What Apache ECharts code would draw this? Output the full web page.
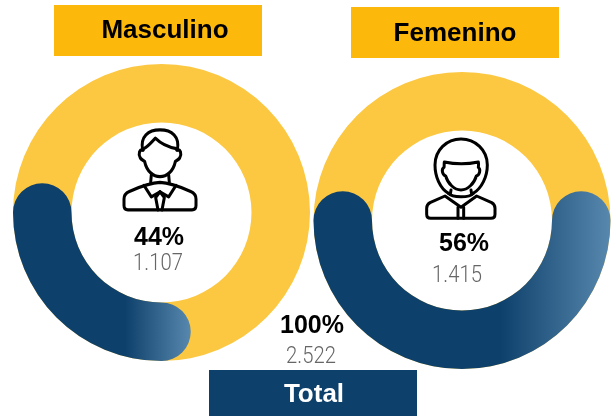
<!DOCTYPE html>
<html>
<head>
<meta charset="utf-8">
<style>html,body{margin:0;padding:0;background:#fff}#c{width:611px;height:416px}</style>
<script src="https://cdn.jsdelivr.net/npm/echarts@6/dist/echarts.min.js"></script>
</head>
<body>
<div id="c"></div>
<script>
const categories = ['Masculino', 'Femenino'];
const shareLabels = ['44%', '56%'];
const countLabels = ['1.107', '1.415'];
const arcValues = [25, 50];          // sweep of the blue arc as drawn, out of 100
const totalName = 'Total';
const totalShare = '100%';
const totalCount = '2.522';

const YELLOW = '#FCC842', BANNER = '#FDB90B', BLUE = '#0D406B', LIGHT = '#5888AE';

const chart = echarts.init(document.getElementById('c'), null, {renderer: 'canvas'});

function donut(name, value, cx, cy, gx0, gx1) {
  return {
    type: 'gauge', name, center: [cx, cy], radius: 148.5,
    startAngle: 180, endAngle: 540, clockwise: false, min: 0, max: 100,
    axisLine: {roundCap: false, lineStyle: {width: 58.5, color: [[1, YELLOW]]}},
    progress: {show: true, width: 58.5, roundCap: true, overlap: true,
      itemStyle: {color: {type: 'linear', global: true, x: gx0, y: 0, x2: gx1, y2: 0,
        colorStops: [{offset: 0, color: BLUE}, {offset: 1, color: LIGHT}]}}},
    pointer: {show: false}, anchor: {show: false}, axisTick: {show: false},
    splitLine: {show: false}, axisLabel: {show: false}, title: {show: false}, detail: {show: false},
    data: [{value, name}], silent: true, animation: false
  };
}

function banner(x, y, w, h, fill, label, color, tx, ty) {
  return [
    {type: 'rect', shape: {x, y, width: w, height: h}, style: {fill}, silent: true},
    {type: 'text', x: tx, y: ty, style: {text: label, fill: color, font: 'bold 26px "Liberation Sans", Arial, sans-serif', align: 'center', verticalAlign: 'middle'}, silent: true}
  ];
}
function big(label, x, y) {
  return {type: 'text', x, y, style: {text: label, fill: '#000', font: 'bold 25px "Liberation Sans", Arial, sans-serif', align: 'center', verticalAlign: 'middle'}, silent: true};
}
function small(label, x, y) {
  return {type: 'text', x, y, scaleX: 0.88, style: {text: label, fill: '#666666', font: '300 23px Roboto, sans-serif', align: 'center', verticalAlign: 'middle'}, silent: true};
}
let shapeCount = 0;
function icon(x, y, sy, paths) {
  return {type: 'group', x, y, scaleX: 1/3, scaleY: sy, silent: true,
    children: paths.map(d => {
      const type = 'iconPath' + (shapeCount++);
      echarts.graphic.registerShape(type, echarts.graphic.extendPath(d));
      return {type, style: {fill: 'none', stroke: '#000', lineWidth: 9, lineJoin: 'round', lineCap: 'round'}};
    })};
}

const malePaths = [
  'M98 96 C90 58 115 40 150 40 C185 40 210 58 202 96',
  'M101 92 C115 86 126 72 136 63 C150 76 175 88 199 92',
  'M100 96 C88 92 84 108 91 118 C95 124 101 124 104 128 C110 155 130 170 150 170 C170 170 190 155 196 128 C199 124 205 124 209 118 C216 108 212 92 200 96',
  'M124 165 L122 186 M176 165 L178 186',
  'M54 262 C46 262 42 258 42 250 L42 232 C42 222 48 215 58 211 C90 198 120 187 150 186 C180 187 210 198 242 211 C252 215 258 222 258 232 L258 250 C258 258 254 262 246 262 Z',
  'M102 194 L124 226 L150 212 L176 226 L198 194',
  'M150 212 L137 228 L144 262 M150 212 L163 228 L156 262'
];
const femalePaths = [
  'M100 190 C75 175 60 140 60 105 C60 60 95 27 138 27 C181 27 217 60 217 105 C217 140 200 175 175 190',
  'M88 96 C120 103 158 103 190 96 C192 105 190 110 190 112 C198 118 194 135 184 138 C178 160 158 180 138 180 C118 180 98 160 92 138 C82 135 78 118 87 112 C88 108 87 102 88 96',
  'M108 180 L106 192 M168 180 L170 192',
  'M100 190 C112 204 164 204 175 190',
  'M47 265 C39 265 35 261 35 253 L35 235 C35 228 38 222 45 218 L90 198 L138 232 L185 198 L230 218 C237 222 240 228 240 235 L240 253 C240 261 236 265 228 265 Z',
  'M129 232 L129 265 M146 232 L146 265'
];

chart.setOption({
  animation: false,
  series: [
    donut(categories[0], arcValues[0], 161.5, 212.5, 125, 191),
    donut(categories[1], arcValues[1], 462, 220.5, 500, 611)
  ],
  graphic: {elements: [
    ...banner(54, 5, 208, 51, BANNER, categories[0], '#000', 165, 31),
    ...banner(351, 7, 208, 51, BANNER, categories[1], '#000', 455, 34),
    ...banner(209, 370, 208, 46, BLUE, totalName, '#fff', 314, 395),
    icon(110, 115.5, 0.36, malePaths),
    icon(415, 130, 1/3, femalePaths),
    big(shareLabels[0], 159, 238), small(countLabels[0], 158, 264),
    big(shareLabels[1], 464, 244), small(countLabels[1], 457, 276),
    big(totalShare, 312, 326), small(totalCount, 311, 357)
  ]}
});
</script>
</body>
</html>
